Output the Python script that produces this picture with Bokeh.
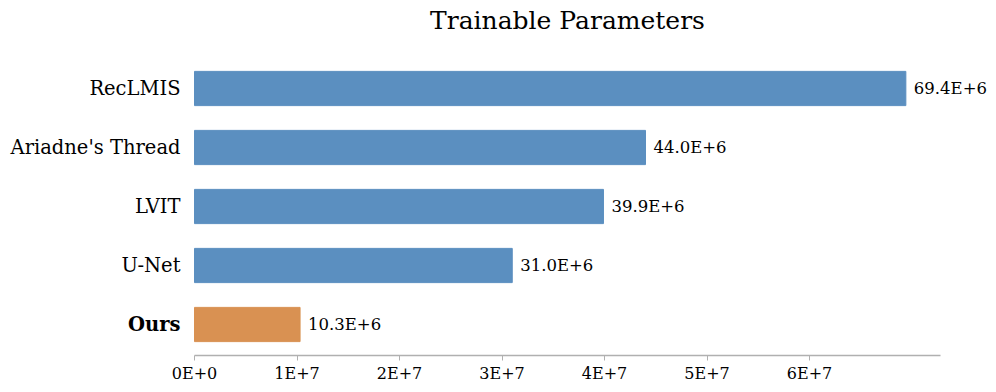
from bokeh.plotting import figure
from bokeh.models import Range1d, FixedTicker, Label, LabelSet, ColumnDataSource
from bokeh.core.properties import value
from bokeh.embed import file_html
from bokeh.resources import INLINE

title_text = "Trainable Parameters"
methods = ["RecLMIS", "Ariadne's Thread", "LVIT", "U-Net", "Ours"]
params = [69.4e6, 44.0e6, 39.9e6, 31.0e6, 10.3e6]
value_labels = ["69.4E+6", "44.0E+6", "39.9E+6", "31.0E+6", "10.3E+6"]
bar_colors = ["#5B8FC0", "#5B8FC0", "#5B8FC0", "#5B8FC0", "#D99152"]
x_ticks = [0, 1e7, 2e7, 3e7, 4e7, 5e7, 6e7]
x_tick_labels = ["0E+0", "1E+7", "2E+7", "3E+7", "4E+7", "5E+7", "6E+7"]
axis_max = 7.28e7

FONT = "DejaVu Serif"
n = len(methods)
ypos = [n - 1 - i for i in range(n)]

# layout (pixels)
W, H = 994, 390
left_px = 194.0          # where x = 0 sits
px_per_x = 102.5 / 1e7
frame_bottom = 355.0
px_per_y = 59.0
top_bar_center = 88.0
title_center_px = (567.0, 20.0)

x_start = -left_px / px_per_x
x_end = (W - left_px) / px_per_x
y_top = (n - 1) + top_bar_center / px_per_y
y_bottom = (n - 1) - (frame_bottom - top_bar_center) / px_per_y

src = ColumnDataSource(dict(y=ypos, right=params, color=bar_colors,
                            label=value_labels, name=methods))

p = figure(width=W, height=H, output_backend="svg", toolbar_location=None,
           x_range=Range1d(x_start, x_end), y_range=Range1d(y_bottom, y_top),
           min_border_left=0, min_border_right=0, min_border_top=0,
           min_border_bottom=int(H - frame_bottom))
p.outline_line_color = None
p.grid.visible = False

p.hbar(y="y", left=0, right="right", height=0.58, color="color", source=src)

p.add_layout(LabelSet(x="right", y="y", text="label", x_offset=8, source=src,
                      text_baseline="middle", text_font=value(FONT),
                      text_font_size="16.5px", text_color="#000000"))

for i, m in enumerate(methods):
    p.add_layout(Label(x=0, y=ypos[i], text=m, x_offset=-14, text_align="right",
                       text_baseline="middle", text_font=FONT,
                       text_font_size="19.5px", text_color="#000000",
                       text_font_style="bold" if m == "Ours" else "normal"))

p.add_layout(Label(x=(title_center_px[0] - left_px) / px_per_x,
                   y=(n - 1) + (top_bar_center - title_center_px[1]) / px_per_y,
                   text=title_text, text_align="center", text_baseline="middle",
                   text_font=FONT, text_font_size="25px", text_color="#000000"))

p.yaxis.visible = False

xa = p.xaxis[0]
xa.bounds = (0, axis_max)
xa.ticker = FixedTicker(ticks=x_ticks)
xa.major_label_overrides = {t: l for t, l in zip(x_ticks, x_tick_labels)}
xa.minor_tick_line_color = None
xa.major_tick_in = 0
xa.major_tick_out = 5
xa.axis_line_color = "#b0b0b0"
xa.major_tick_line_color = "#b0b0b0"
xa.axis_line_width = 1.5
xa.major_label_text_font = FONT
xa.major_label_text_font_size = "16px"
xa.major_label_text_color = "#000000"
xa.major_label_standoff = 3

open("out.html", "w").write(file_html(p, INLINE))
